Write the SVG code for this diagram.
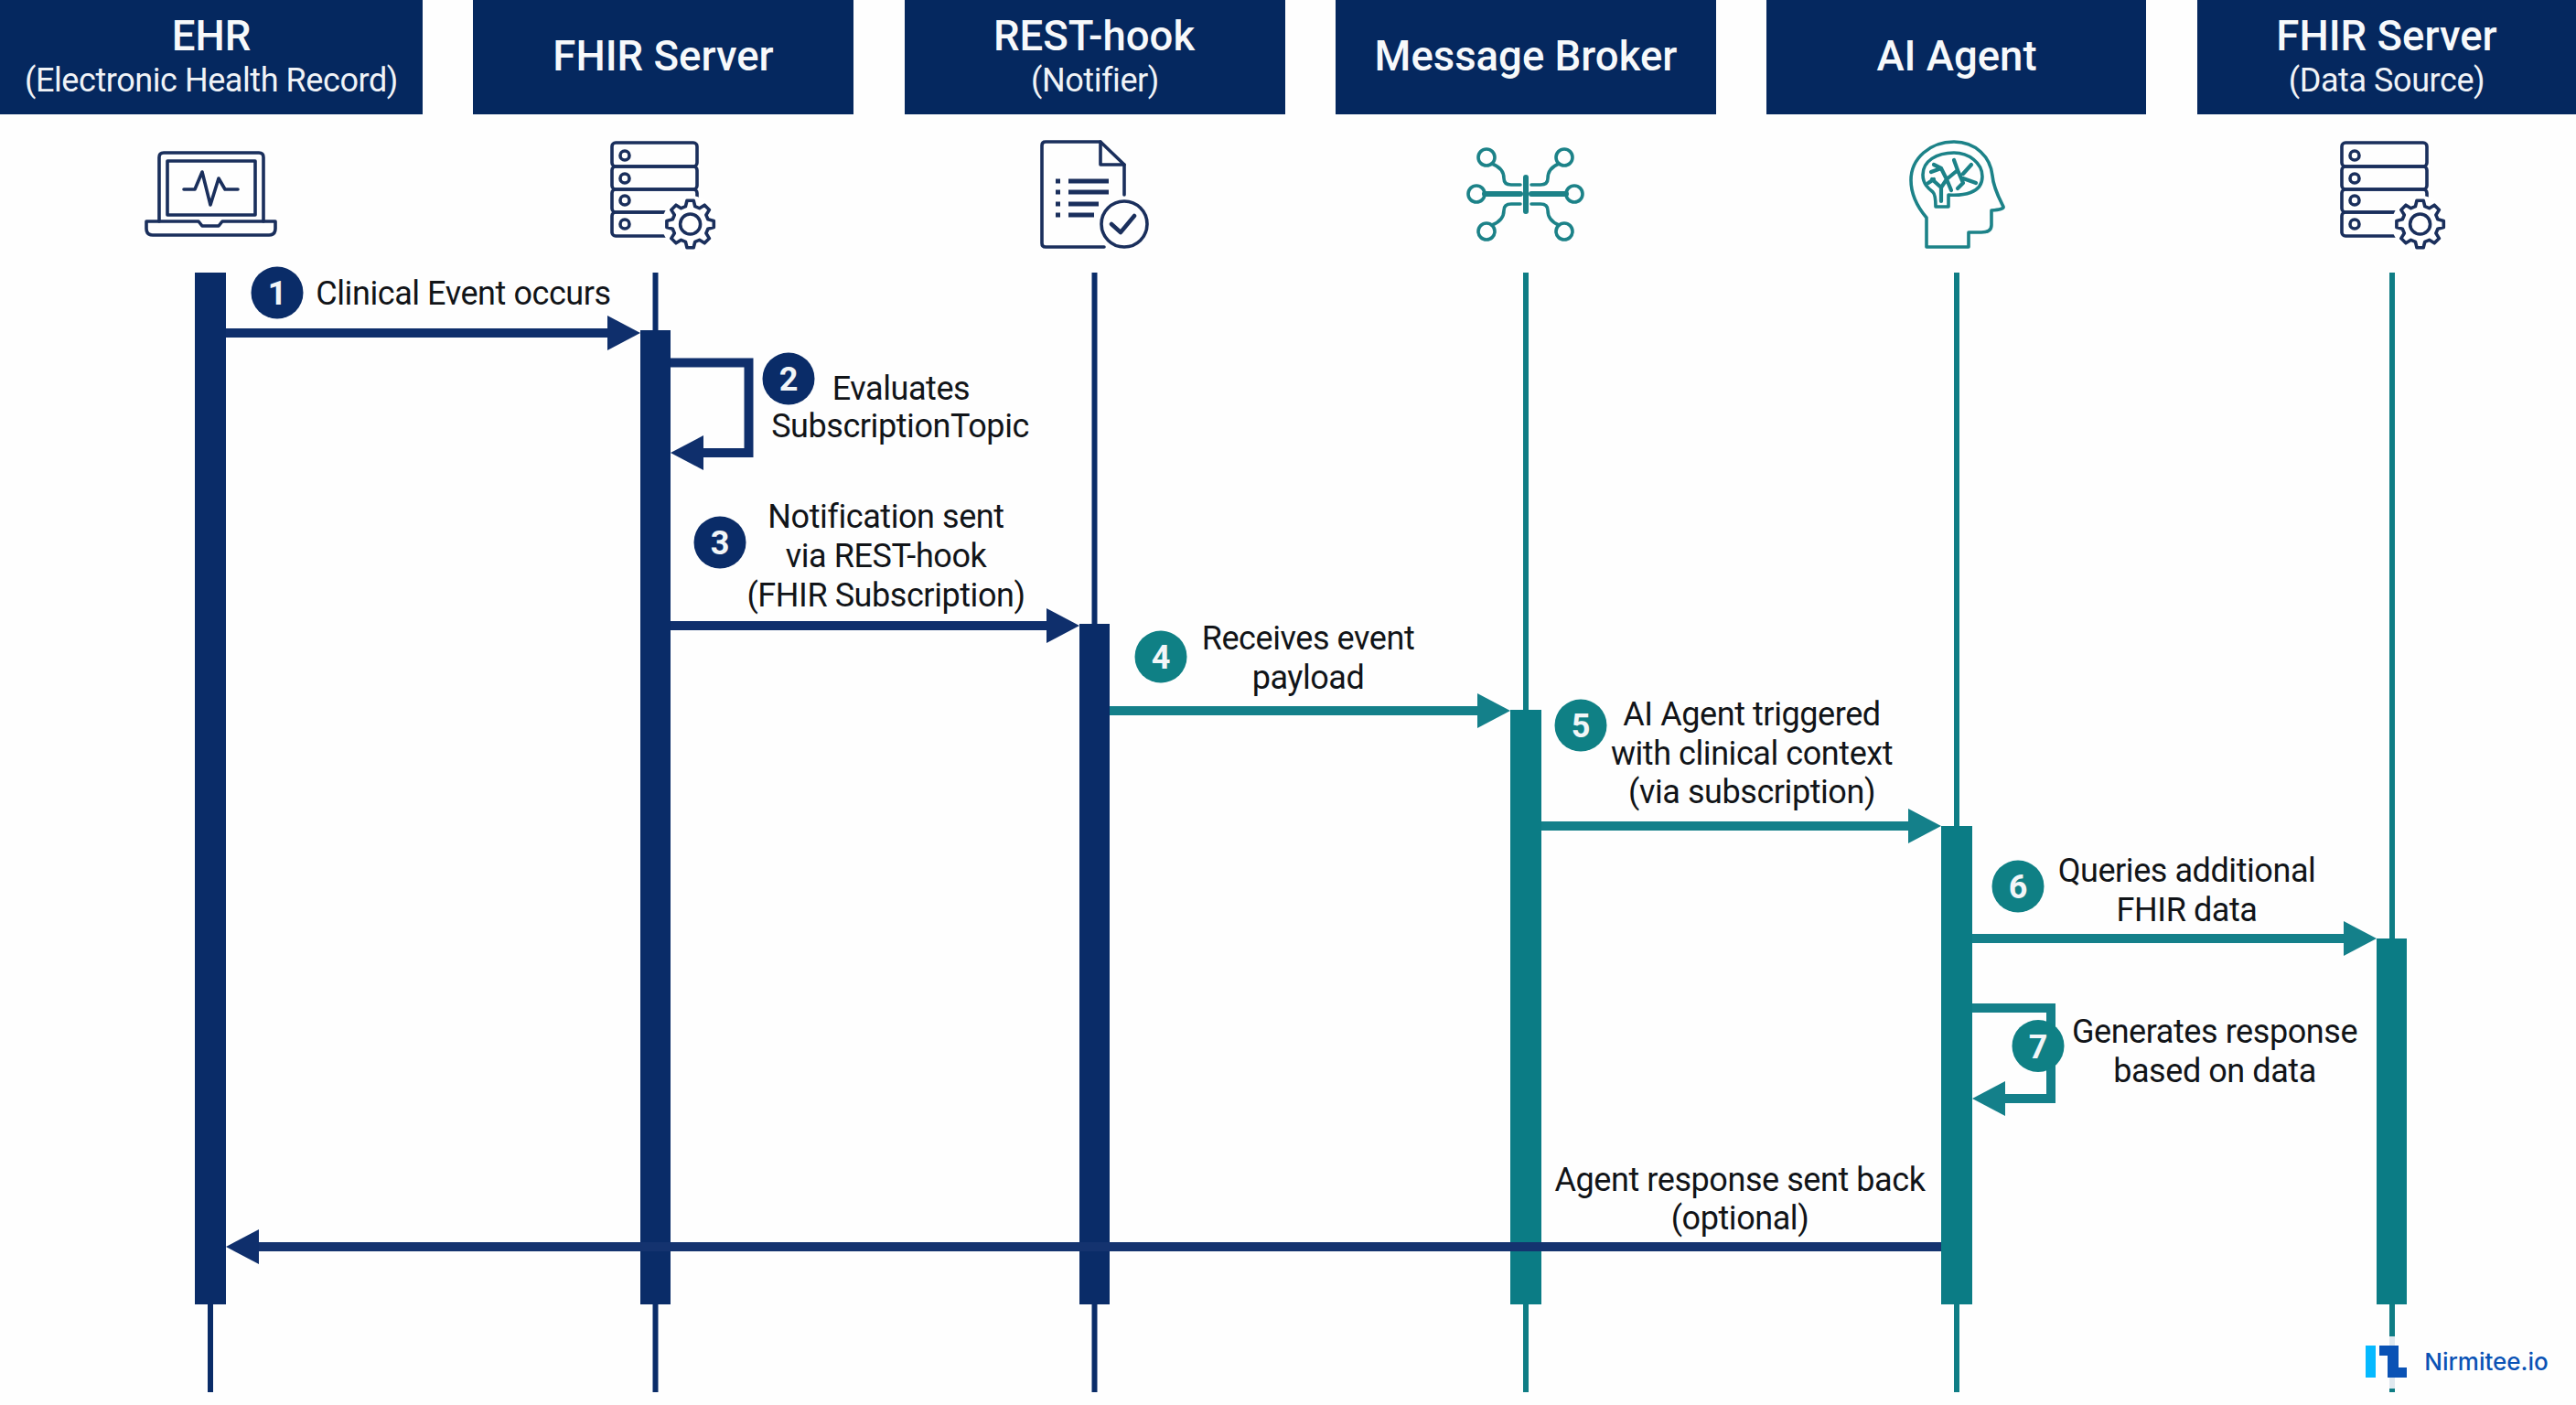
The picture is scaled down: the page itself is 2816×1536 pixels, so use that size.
<svg xmlns="http://www.w3.org/2000/svg" xmlns:xlink="http://www.w3.org/1999/xlink" width="2816" height="1536" viewBox="0 0 2816 1536">
<style>
text{font-family:Roboto,"Liberation Sans",sans-serif;text-anchor:middle}
.hd{fill:#05285f}
.t1{fill:#f7f9fb;font-size:45.5px;font-weight:500}
.t2{fill:#f0f3f7;font-size:36px;letter-spacing:-0.43px}
.lb{fill:#111418;font-size:36px;letter-spacing:-0.43px}
.num{fill:#f2f6f8;font-size:36px;font-weight:700}
.nv{fill:#0a2c68}
.tl{fill:#0b7c85}
.cn{fill:#0f8085}
.cv{fill:#0a2c68}
.ln{stroke:#0a2c68;stroke-width:6;fill:none}
.lt{stroke:#0f7d85;stroke-width:6;fill:none}
.an{stroke:#0f2f6c;stroke-width:10;fill:none}
.at{stroke:#14808a;stroke-width:10;fill:none}
.in{stroke:#1a2f5c;stroke-width:3.6;fill:none;stroke-linejoin:round;stroke-linecap:round}
.it{stroke:#1c8288;stroke-width:3.6;fill:none;stroke-linejoin:round;stroke-linecap:round}
</style>
<defs>
<marker id="hn" markerUnits="userSpaceOnUse" markerWidth="36" markerHeight="40" refX="0" refY="20" orient="auto"><path d="M0,1 L36,20 L0,39 Z" fill="#0f2f6c"/></marker>
<marker id="ht" markerUnits="userSpaceOnUse" markerWidth="36" markerHeight="40" refX="0" refY="20" orient="auto"><path d="M0,1 L36,20 L0,39 Z" fill="#14808a"/></marker>
<g id="server">
<rect x="0" y="0" width="93" height="26" rx="4" class="in"/>
<rect x="0" y="26" width="93" height="25" rx="4" class="in"/>
<rect x="0" y="51" width="93" height="25" rx="4" class="in"/>
<rect x="0" y="76" width="93" height="26" rx="4" class="in"/>
<circle cx="14" cy="14" r="5" class="in"/>
<circle cx="14" cy="39" r="5" class="in"/>
<circle cx="14" cy="63" r="5" class="in"/>
<circle cx="14" cy="89" r="5" class="in"/>
<circle cx="85.6" cy="89" r="31" fill="#fff"/>
<path transform="translate(85.6 89)" class="in" fill="#fff" d="M19.3,-5.2 25.7,-3.6 25.7,3.6 19.3,5.2 17.3,10 20.8,15.6 15.6,20.8 10,17.3 5.2,19.3 3.6,25.7 -3.6,25.7 -5.2,19.3 -10,17.3 -15.6,20.8 -20.8,15.6 -17.3,10 -19.3,5.2 -25.7,3.6 -25.7,-3.6 -19.3,-5.2 -17.3,-10 -20.8,-15.6 -15.6,-20.8 -10,-17.3 -5.2,-19.3 -3.6,-25.7 3.6,-25.7 5.2,-19.3 10,-17.3 15.6,-20.8 20.8,-15.6 17.3,-10 Z"/>
<circle cx="85.6" cy="89" r="11" class="in"/>
</g>
</defs>
<rect width="2816" height="1536" fill="#fefefe"/>

<g id="ehr">
<rect class="hd" x="0" y="0" width="462" height="125"/>
<text class="t1" x="231" y="55">EHR</text>
<text class="t2" x="231" y="100">(Electronic Health Record)</text>
<g class="in">
<path d="M160,242 H217 L221,247 H239 L243,242 H301 V250 Q301,257 294,257 H167 Q160,257 160,250 Z"/>
<path d="M174,242 V172 Q174,167 179,167 H283 Q288,167 288,172 V242"/>
<rect x="183" y="176" width="96" height="59"/>
<path d="M201,207 H213 L221,188 L230,224 L239,195 L246,207 H260"/>
</g>
<path class="ln" d="M230,298 V1522"/>
<rect class="nv" x="213" y="298" width="34" height="1128"/>
</g>

<g id="fhir-server">
<rect class="hd" x="517" y="0" width="416" height="125"/>
<text class="t1" x="725" y="77">FHIR Server</text>
<use xlink:href="#server" href="#server" x="669" y="156"/>
<path class="ln" d="M716.500,298 V1522"/>
<rect class="nv" x="700" y="361" width="33" height="1065"/>
</g>

<g id="rest-hook">
<rect class="hd" x="989" y="0" width="416" height="125"/>
<text class="t1" x="1196" y="55">REST-hook</text>
<text class="t2" x="1197" y="100">(Notifier)</text>
<g class="in">
<path d="M1229,213 V180 L1203,155 H1143 Q1139,155 1139,159 V266 Q1139,270 1143,270 H1207"/>
<path d="M1203,155 V180 H1229"/>
<path d="M1154,198 H1159 M1168,198 H1212 M1154,210 H1159 M1168,210 H1212 M1154,223 H1159 M1168,223 H1201 M1154,235 H1159 M1168,235 H1196" stroke-width="5" stroke-linecap="butt"/>
<circle cx="1229" cy="245" r="25"/>
<path d="M1215,245 L1225,254 L1240,236" stroke-width="4.500"/>
</g>
<path class="ln" d="M1196.500,298 V1522"/>
<rect class="nv" x="1180" y="682" width="33" height="744"/>
</g>

<g id="message-broker">
<rect class="hd" x="1460" y="0" width="416" height="125"/>
<text class="t1" x="1668" y="77">Message Broker</text>
<g class="it">
<circle cx="1625" cy="172" r="9"/><circle cx="1710" cy="172" r="9"/>
<circle cx="1614" cy="212" r="9"/><circle cx="1721" cy="212" r="9"/>
<circle cx="1625" cy="253" r="9"/><circle cx="1710" cy="253" r="9"/>
<path d="M1631,179 Q1644,184 1644,195 Q1644,202 1652,202 H1662 M1704,179 Q1692,184 1692,195 Q1692,202 1684,202 H1674"/>
<path d="M1631,246 Q1644,241 1644,230 Q1644,223 1652,223 H1662 M1704,246 Q1692,241 1692,230 Q1692,223 1684,223 H1674"/>
<path d="M1623,212 H1662 M1674,212 H1712" stroke-width="6"/>
<path d="M1668,194 V231" stroke-width="6"/>
</g>
<path class="lt" d="M1668,298 V1522"/>
<rect class="tl" x="1651" y="776" width="34" height="650"/>
</g>

<g id="ai-agent">
<rect class="hd" x="1931" y="0" width="415" height="125"/>
<text class="t1" x="2139" y="77">AI Agent</text>
<g class="it">
<path d="M2106,270 V238 C2095,225 2089,212 2089,197 C2089,173 2110,155 2136,155 C2160,155 2176,172 2178,192 C2179,205 2186,218 2190,226 Q2191,229 2177,230 V246 Q2177,254 2166,254 H2152 V270 Z"/>
<path d="M2116,226 H2130 V213 C2145,214 2167,212 2167,193 C2167,178 2152,167 2136,167 C2117,167 2102,176 2102,191 C2102,201 2108,206 2113,210 Q2116,213 2116,226 Z"/>
<path stroke-width="4.200" d="M2122,220 V205 L2112,196 M2122,205 L2128,196 L2122,184 L2114,180 M2122,184 L2111,188 M2128,196 L2133,208 M2128,196 L2140,186 L2136,175 M2140,186 L2146,200 L2140,206 M2146,190 L2155,180 M2146,195 L2160,200 M2114,196 L2108,200"/>
</g>
<path class="lt" d="M2139,298 V1522"/>
<rect class="tl" x="2122" y="903" width="34" height="523"/>
</g>

<g id="fhir-data-source">
<rect class="hd" x="2402" y="0" width="414" height="125"/>
<text class="t1" x="2609" y="55">FHIR Server</text>
<text class="t2" x="2609" y="100">(Data Source)</text>
<use xlink:href="#server" href="#server" x="2560" y="156"/>
<path class="lt" d="M2615,298 V1461 M2615,1518 V1522"/>
<path d="M2615,1461 V1518" stroke="#dfe8ef" stroke-width="6"/>
<rect class="tl" x="2598" y="1026" width="33" height="400"/>
</g>

<g id="connectors">
<path class="an" d="M247,364 H664" marker-end="url(#hn)"/>
<path class="an" d="M733,396.500 H818.500 V495 H769" marker-end="url(#hn)"/>
<path class="an" d="M733,684 H1144" marker-end="url(#hn)"/>
<path class="at" d="M1213,777 H1615" marker-end="url(#ht)"/>
<path class="at" d="M1685,903 H2086" marker-end="url(#ht)"/>
<path class="at" d="M2156,1026 H2562" marker-end="url(#ht)"/>
<path class="at" d="M2156,1102 H2242 V1201 H2192" marker-end="url(#ht)"/>
<path class="an" d="M2122,1363 H283" style="stroke:#14336f" marker-end="url(#hn)"/>
</g>

<g id="step-1"><circle class="cv" cx="303" cy="320" r="28.500"/><text class="num" x="303" y="333">1</text>
<text class="lb" x="506.500" y="333">Clinical Event occurs</text></g>
<g id="step-2"><circle class="cv" cx="862" cy="414" r="28.500"/><text class="num" x="862" y="427">2</text>
<text class="lb" x="985" y="437">Evaluates</text><text class="lb" x="984" y="478">SubscriptionTopic</text></g>
<g id="step-3"><circle class="cv" cx="787" cy="593" r="28.500"/><text class="num" x="787" y="606">3</text>
<text class="lb" x="968.500" y="577">Notification sent</text><text class="lb" x="968.500" y="620">via REST-hook</text><text class="lb" x="968.500" y="663">(FHIR Subscription)</text></g>
<g id="step-4"><circle class="cn" cx="1269" cy="718" r="28.500"/><text class="num" x="1269" y="731">4</text>
<text class="lb" x="1430" y="710">Receives event</text><text class="lb" x="1430" y="753">payload</text></g>
<g id="step-5"><circle class="cn" cx="1728" cy="793" r="28.500"/><text class="num" x="1728" y="806">5</text>
<text class="lb" x="1915" y="793">AI Agent triggered</text><text class="lb" x="1915" y="836">with clinical context</text><text class="lb" x="1915" y="878">(via subscription)</text></g>
<g id="step-6"><circle class="cn" cx="2206" cy="969" r="28.500"/><text class="num" x="2206" y="982">6</text>
<text class="lb" x="2390.500" y="964">Queries additional</text><text class="lb" x="2390.500" y="1007">FHIR data</text></g>
<g id="step-7"><circle class="cn" cx="2228" cy="1143.500" r="28.500"/><text class="num" x="2228" y="1156.500">7</text>
<text class="lb" x="2421" y="1140">Generates response</text><text class="lb" x="2421" y="1182.500">based on data</text></g>
<g id="step-8"><text class="lb" x="1902" y="1302">Agent response sent back</text><text class="lb" x="1902" y="1344">(optional)</text></g>

<g id="logo">
<rect x="2586" y="1471" width="11" height="35" fill="#05b9ff"/>
<path d="M2601,1471 H2622 V1495 H2631 V1506 H2610 V1482 H2601 Z" fill="#0a52b5"/>
<text x="2718" y="1498" style="font-family:Inter,'Liberation Sans',sans-serif;font-size:26px;font-weight:500;fill:#0a52b5">Nirmitee.io</text>
</g>
</svg>
